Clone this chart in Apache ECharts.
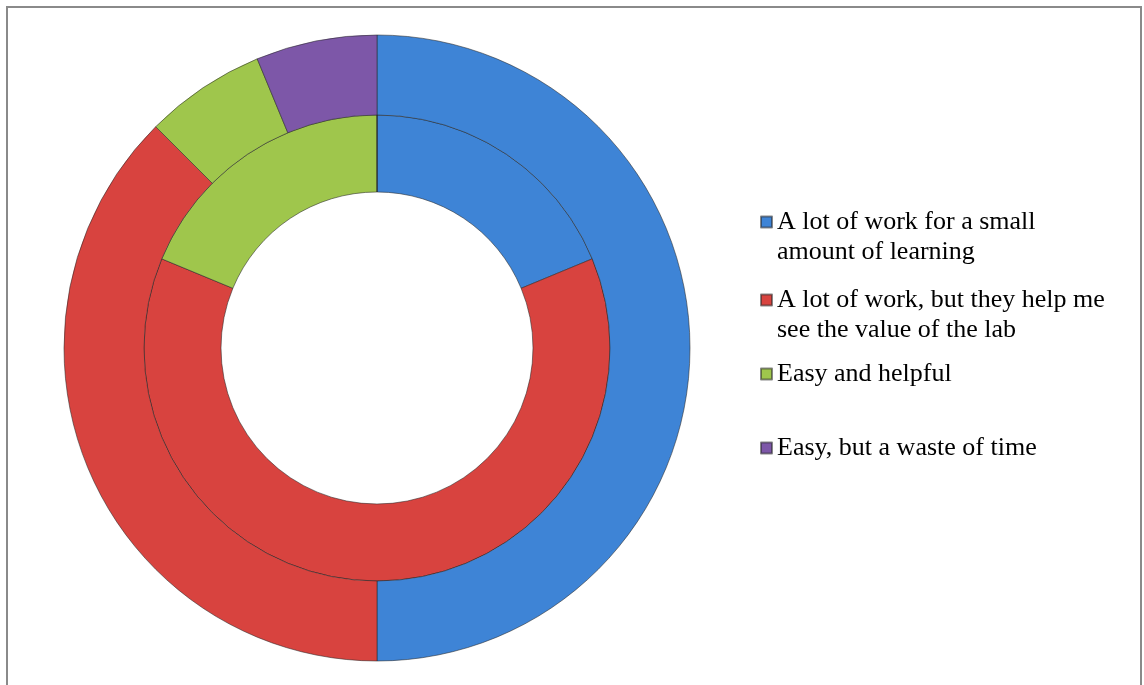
<!DOCTYPE html>
<html>
<head>
<meta charset="utf-8">
<script src="https://cdn.jsdelivr.net/npm/echarts@6/dist/echarts.min.js"></script>
<style>
  html, body { margin: 0; padding: 0; background: #fff; }
  #chart { width: 1144px; height: 685px; }
</style>
</head>
<body>
<div id="chart"></div>
<script>
// categories (legend order)
const categories = [
  "A lot of work for a small\namount of learning",
  "A lot of work, but they help me\nsee the value of the lab",
  "Easy and helpful",
  "Easy, but a waste of time"
];
// outer ring / inner ring counts
const outerValues = [8, 6, 1, 1];
const innerValues = [3, 10, 3, 0];

const colors = ["#3E84D6", "#D8433F", "#9FC64C", "#7D57A8"];
const legendTops = [207, 285, 359, 433];

const toData = (vals) => vals.map((v, i) => ({ name: categories[i], value: v }));

const ringStyle = {
  borderColor: "rgba(40,40,40,0.55)",
  borderWidth: 1
};

// square at the top of a tall box, so the marker sits on the first text line
const topSquare = "path://M0,0L11,0L11,11L0,11Z M0,41";

const legends = categories.map((name, i) => {
  const twoLines = name.indexOf("\n") >= 0;
  return {
    data: [name],
    orient: "vertical",
    left: 760,
    top: legendTops[i],
    padding: 0,
    icon: twoLines ? topSquare : "rect",
    itemWidth: 11,
    itemHeight: twoLines ? 41 : 11,
    itemGap: 0,
    selectedMode: false,
    textStyle: {
      fontFamily: "Liberation Serif",
      fontSize: 26,
      color: "#000",
      lineHeight: 30
    }
  };
});

const chart = echarts.init(document.getElementById("chart"));
chart.setOption({
  color: colors,
  animation: false,
  legend: legends,
  graphic: [{
    type: "rect",
    shape: { x: 7, y: 7, width: 1134, height: 720 },
    style: { fill: "none", stroke: "#8a8a8a", lineWidth: 2 },
    silent: true
  }],
  series: [
    {
      type: "pie",
      center: [377, 348],
      radius: [156, 233],
      startAngle: 90,
      label: { show: false },
      labelLine: { show: false },
      silent: true,
      itemStyle: ringStyle,
      data: toData(innerValues)
    },
    {
      type: "pie",
      center: [377, 348],
      radius: [233, 313],
      startAngle: 90,
      label: { show: false },
      labelLine: { show: false },
      silent: true,
      itemStyle: ringStyle,
      data: toData(outerValues)
    }
  ]
});
</script>
</body>
</html>
